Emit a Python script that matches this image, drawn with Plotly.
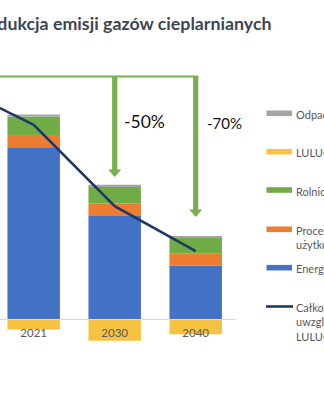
import plotly.graph_objects as go

# Emissions by sector, Mt CO2 eq. (LULUCF is a net sink, hence negative)
years = ["1990", "2021", "2030", "2040"]
energetyka = [None, 336, 202, 105]
procesy = [None, 24, 24, 23]
rolnictwo = [None, 36, 34, 31]
odpady = [None, 4, 3, 3]
lulucf = [None, -20, -42, -29]
# Total emissions including LULUCF
calkowite = [458, 380, 221, 133]

reduction_years = ["2030", "2040"]
reduction_labels = ["-50%", "-70%"]

series_names = {
    "odpady": "Odpady",
    "lulucf": "LULUCF",
    "rolnictwo": "Rolnictwo",
    "procesy": "Procesy przemysłowe i<br>użytkowanie produktów",
    "energetyka": "Energetyka",
    "calkowite": "Całkowite emisje z<br>uwzględnieniem<br>LULUCF",
}

colors = {
    "energetyka": "#4472C4",
    "procesy": "#ED7D31",
    "rolnictwo": "#70AD47",
    "odpady": "#A5A5A5",
    "lulucf": "#F7C242",
    "calkowite": "#203864",
}
arrow_green = "#77B04D"

W, H = 324, 400
PLOT_RIGHT = 236          # px, right edge of the plotting area
BASE_PX = 319.3           # px, vertical position of the zero line
PX_PER_UNIT = 0.512       # px per Mt
CAT_PX = 81.0             # px per category
X0 = 0.584                # category index at the left edge

x_range = [X0, X0 + PLOT_RIGHT / CAT_PX]
y_range = [-(H - BASE_PX) / PX_PER_UNIT, BASE_PX / PX_PER_UNIT]


def py(px):
    """paper y from a pixel row"""
    return 1 - px / H


def px_x(px):
    """paper x from a pixel column"""
    return px / W


fig = go.Figure()

stack = [
    ("energetyka", energetyka),
    ("procesy", procesy),
    ("rolnictwo", rolnictwo),
    ("odpady", odpady),
    ("lulucf", lulucf),
]
for key, vals in stack:
    fig.add_trace(go.Bar(
        x=years, y=vals, name=series_names[key],
        marker=dict(color=colors[key], line=dict(width=0)),
        showlegend=False, hoverinfo="skip",
    ))

fig.add_trace(go.Scatter(
    x=years, y=calkowite, mode="lines", name=series_names["calkowite"],
    line=dict(color=colors["calkowite"], width=2.6),
    showlegend=False, hoverinfo="skip",
))

annotations = []
shapes = []

# value labels at the top of each stack
for i, yr in enumerate(years):
    if energetyka[i] is None:
        continue
    top = energetyka[i] + procesy[i] + rolnictwo[i] + odpady[i]
    annotations.append(dict(
        x=yr, y=top, xref="x", yref="y", text=str(calkowite[i]),
        showarrow=False, yanchor="middle", yshift=1,
        font=dict(family="Lato", size=13.5, color="#404040"),
    ))

# reduction bracket with arrows
bracket_y = (BASE_PX - 76.5) / PX_PER_UNIT
tips_px = {"2030": 177, "2040": 217}
head_h = 7.5 / PX_PER_UNIT
head_w = 6.5 / CAT_PX
bar_half = 2.6 / CAT_PX
idx = {y: i for i, y in enumerate(years)}

right_x = idx[reduction_years[-1]] + bar_half
shapes.append(dict(type="line", xref="x", yref="y", x0=-1, x1=right_x,
                   y0=bracket_y, y1=bracket_y,
                   line=dict(color=arrow_green, width=2.2)))
label_px = {"2030": (121.5, 121, 17.5), "2040": (205, 122.7, 15)}
for yr, lab in zip(reduction_years, reduction_labels):
    xc = idx[yr]
    tip = (BASE_PX - tips_px[yr]) / PX_PER_UNIT
    shapes.append(dict(type="line", xref="x", yref="y", x0=xc, x1=xc,
                       y0=bracket_y + 1, y1=tip + head_h * 0.9,
                       line=dict(color=arrow_green, width=5.2)))
    shapes.append(dict(type="path", xref="x", yref="y",
                       path=f"M {xc - head_w},{tip + head_h} L {xc + head_w},{tip + head_h} L {xc},{tip} Z",
                       fillcolor=arrow_green, line=dict(width=0)))
    lx, ly, fs = label_px[yr]
    annotations.append(dict(
        x=px_x(lx), y=py(ly), xref="paper", yref="paper", text=lab,
        showarrow=False, xanchor="left", yanchor="middle",
        font=dict(family="Lato", size=fs, color="#111111"),
    ))

# title
annotations.append(dict(
    x=px_x(274), y=py(23), xref="paper", yref="paper",
    text="<b>Redukcja emisji gazów cieplarnianych</b>",
    showarrow=False, xanchor="right", yanchor="middle",
    font=dict(family="Lato", size=17.8, color="#3E4654"),
))

# legend
legend_rows = [
    ("odpady", 113.3, "box"),
    ("lulucf", 151.7, "box"),
    ("rolnictwo", 190, "box"),
    ("procesy", 229.3, "box"),
    ("energetyka", 267.7, "box"),
    ("calkowite", 306.5, "line"),
]
for key, ypx, kind in legend_rows:
    if kind == "box":
        shapes.append(dict(type="rect", xref="paper", yref="paper",
                           x0=px_x(266.5), x1=px_x(292), y0=py(ypx + 2.8), y1=py(ypx - 2.8),
                           fillcolor=colors[key], line=dict(width=0)))
    else:
        shapes.append(dict(type="line", xref="paper", yref="paper",
                           x0=px_x(266), x1=px_x(293), y0=py(ypx), y1=py(ypx),
                           line=dict(color=colors[key], width=2.6)))
    annotations.append(dict(
        x=px_x(294), y=py(ypx - 7.3), xref="paper", yref="paper",
        text=series_names[key], showarrow=False, xanchor="left", yanchor="top",
        align="left", font=dict(family="Lato", size=11, color="#595959"),
    ))

fig.update_layout(
    width=W, height=H,
    margin=dict(l=0, r=0, t=0, b=0),
    paper_bgcolor="white", plot_bgcolor="white",
    barmode="relative", bargap=0.352,
    showlegend=False,
    annotations=annotations, shapes=shapes,
    xaxis=dict(
        type="category", categoryarray=years, categoryorder="array",
        range=x_range, domain=[0, PLOT_RIGHT / W],
        anchor="free", position=py(BASE_PX),
        showline=True, linecolor="#D9D9D9", linewidth=1,
        showgrid=False, zeroline=False, ticks="",
        ticklabelstandoff=3,
        tickfont=dict(family="Lato", size=11.5, color="#595959"),
        fixedrange=True,
    ),
    yaxis=dict(range=y_range, visible=False, fixedrange=True),
)

fig.write_html("out.html", config={"displayModeBar": False})
